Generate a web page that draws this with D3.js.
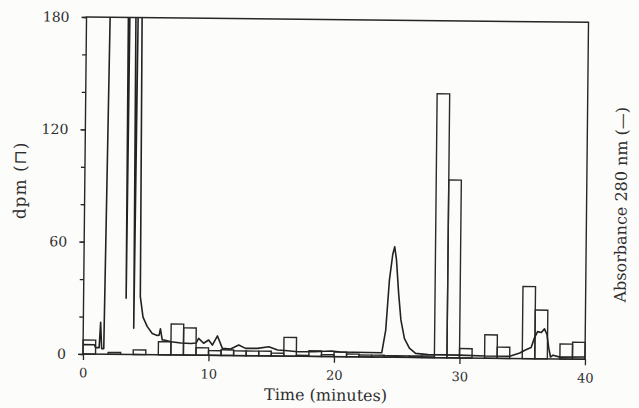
<!DOCTYPE html>
<html>
<head>
<meta charset="utf-8">
<script src="https://cdn.jsdelivr.net/npm/d3@7"></script>
<style>
body { margin: 0; background: #fcfcfb; }
svg text { font-family: "DejaVu Serif", serif; fill: #2e2e2e; }
.axis path, .axis line { stroke: #262626; stroke-width: 1.3; }
</style>
</head>
<body>
<svg id="chart" width="639" height="408"></svg>
<script>
// fraction start times (minutes), one fraction per minute
var fractionStart = [0, 1, 2, 3, 4, 5, 6, 7, 8, 9,
    10, 11, 12, 13, 14, 15, 16, 17, 18, 19,
    20, 21, 22, 23, 24, 25, 26, 27, 28, 29,
    30, 31, 32, 33, 34, 35, 36, 37, 38, 39];
// radioactivity per fraction (dpm)
var dpm = [7.5, 0, 1, 0, 2.5, 0, 7, 16.5, 14.5, 4,
    2.5, 3, 2.5, 2.5, 2.5, 1.5, 10, 0.5, 3, 1,
    2.5, 1.5, 1, 1, 0.8, 0.8, 0.8, 0.8, 141, 95,
    5, 0, 12.5, 6, 0, 38.5, 26, 0, 8, 9];

// absorbance 280 nm trace (time in minutes, A280)
var absTime = [0, 0.9, 1.0, 1.28, 1.38, 1.48, 1.65, 1.9, 3.33, 3.39, 3.46, 3.93, 4.02, 4.12,
    4.42, 4.52, 4.75, 5.1, 5.5, 5.9, 6.05, 6.15, 6.3, 6.45, 7.0, 7.8, 8.6, 9.0, 9.2, 9.6,
    10.0, 10.3, 10.7, 11.1, 11.75, 12.4, 12.95, 13.9, 14.8, 15.5, 16.3, 17.1, 18.4, 19.8,
    20.5, 23.8, 24.1, 24.35, 24.6, 24.75, 24.9, 25.1, 25.3, 25.6, 26.0, 26.5, 27.5, 30,
    32, 34, 34.8, 35.2, 35.7, 35.95, 36.2, 36.5, 36.75, 36.95, 37.1, 37.25, 37.45, 38, 40];
var absValue = [0.05, 0.05, 0.035, 0.035, 0.17, 0.03, 0.03, 1.95, 1.95, 0.3, 1.95, 1.95, 0.14, 1.95,
    1.95, 0.31, 0.2, 0.15, 0.113, 0.103, 0.105, 0.139, 0.08, 0.079, 0.07, 0.064, 0.062, 0.065, 0.09, 0.064,
    0.082, 0.055, 0.104, 0.038, 0.035, 0.057, 0.039, 0.04, 0.049, 0.032, 0.029, 0.024, 0.025, 0.03,
    0.025, 0.023, 0.145, 0.41, 0.55, 0.59, 0.52, 0.34, 0.2, 0.1, 0.05, 0.022, 0.016, 0.015,
    0.012, 0.012, 0.03, 0.045, 0.06, 0.11, 0.145, 0.14, 0.16, 0.13, 0.06, 0.01, 0.02, 0.01, 0.012];

var xTicks = [0, 10, 20, 30, 40];
var yTicks = [0, 60, 120, 180];
var yMinorTicks = [0, 20, 40, 60, 80, 100, 120, 140, 160, 180];

var left = 83, bottom = 354, width = 502, height = 337;

var svg = d3.select('#chart');

// the scanned figure sits slightly rotated on the page
var g = svg.append('g')
    .attr('transform', 'rotate(0.6,' + left + ',' + bottom + ') translate(' + left + ',' + (bottom - height) + ')');

var x = d3.scaleLinear().domain([0, 40]).range([0, width]);
var y = d3.scaleLinear().domain([0, 180]).range([height, 0]);
var yAbs = d3.scaleLinear().domain([0, 1.8]).range([height, 0]);

g.append('clipPath').attr('id', 'plotClip')
    .append('rect').attr('width', width).attr('height', height);

//dpm histogram
g.append('g').attr('class', 'bars')
    .selectAll('rect')
    .data(fractionStart)
    .enter().append('rect')
    .attr('x', function(d){ return x(d); })
    .attr('width', function(d){ return x(d + 1) - x(d); })
    .attr('y', function(d, i){ return y(dpm[i]); })
    .attr('height', function(d, i){ return y(0) - y(dpm[i]); })
    .attr('fill', 'none')
    .attr('stroke', '#2a2a2a')
    .attr('stroke-width', 1.4);

//absorbance trace, off-scale peaks clipped at the frame
var line = d3.line()
    .x(function(d){ return x(d); })
    .y(function(d, i){ return yAbs(absValue[i]); });

g.append('path')
    .datum(absTime)
    .attr('clip-path', 'url(#plotClip)')
    .attr('d', line)
    .attr('fill', 'none')
    .attr('stroke', '#222')
    .attr('stroke-width', 1.6)
    .attr('stroke-linejoin', 'round');

//frame
g.append('rect')
    .attr('width', width).attr('height', height)
    .attr('fill', 'none')
    .attr('stroke', '#262626')
    .attr('stroke-width', 1.4);

//axes
var yMinor = g.append('g').attr('class', 'axis')
    .call(d3.axisLeft(y).tickValues(yMinorTicks).tickSize(4).tickFormat(''));
yMinor.select('.domain').remove();

var yAxis = g.append('g').attr('class', 'axis')
    .call(d3.axisLeft(y).tickValues(yTicks).tickSize(5).tickPadding(12));
yAxis.select('.domain').remove();
yAxis.selectAll('text').attr('font-size', 14).attr('font-family', null);

var xAxis = g.append('g').attr('class', 'axis')
    .attr('transform', 'translate(0,' + height + ')')
    .call(d3.axisBottom(x).tickValues(xTicks).tickSize(6).tickPadding(8));
xAxis.select('.domain').remove();
xAxis.selectAll('text').attr('font-size', 13).attr('font-family', null);

//titles
g.append('text')
    .attr('x', width / 2 - 8)
    .attr('y', height + 44)
    .attr('text-anchor', 'middle')
    .attr('font-size', 16)
    .text('Time (minutes)');

g.append('text')
    .attr('transform', 'translate(-59,' + (height - 173) + ') rotate(-90)')
    .attr('text-anchor', 'middle')
    .attr('font-size', 17)
    .attr('letter-spacing', 1)
    .text('dpm (\u2293)');

g.append('text')
    .attr('transform', 'translate(' + (width + 40) + ',' + (height - 155) + ') rotate(-90)')
    .attr('text-anchor', 'middle')
    .attr('font-size', 16)
    .text('Absorbance 280 nm (\u2014)');
</script>
</body>
</html>
